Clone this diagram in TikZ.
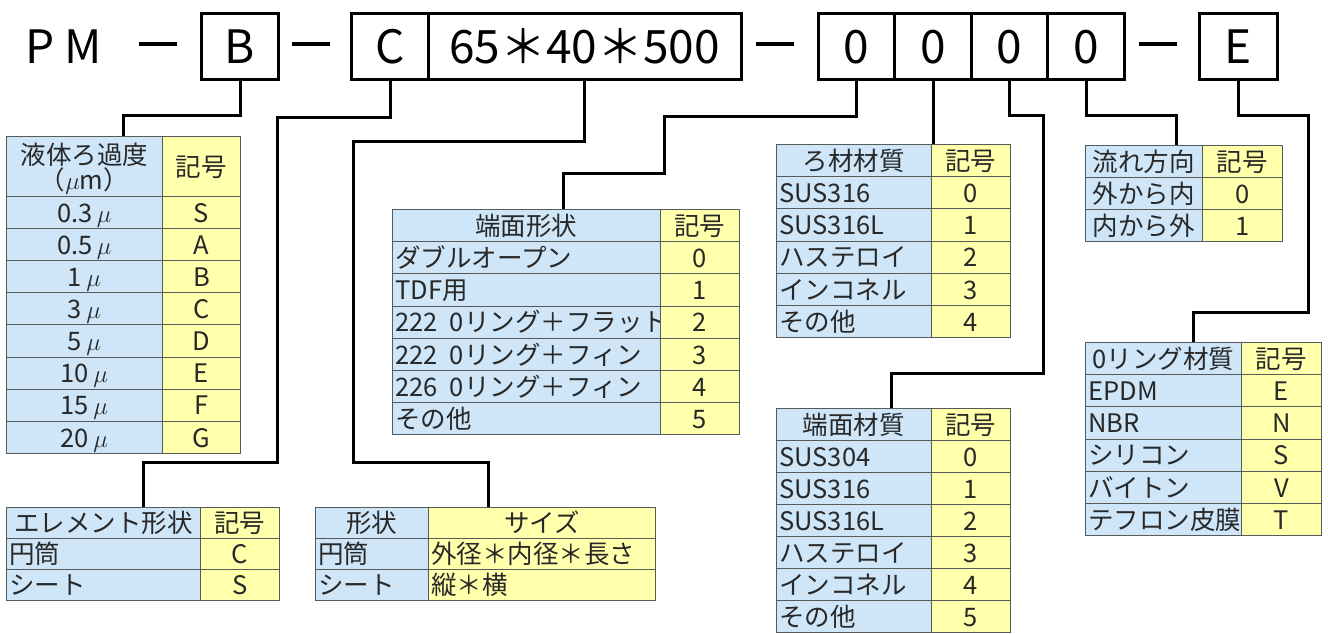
\documentclass[tikz,border=0pt]{standalone}
\usepackage{fontspec}
\setmainfont{Noto Sans CJK JP}
\definecolor{cellblue}{RGB}{206,230,248}
\definecolor{cellyel}{RGB}{255,255,172}
\definecolor{rule}{RGB}{85,90,90}
\definecolor{ink}{RGB}{40,40,40}
\newcommand\cellfont{\fontsize{25.5pt}{23pt}\selectfont}
\newcommand\codefont{\fontsize{46pt}{48pt}\selectfont}
\tikzset{
  code/.style={draw, line width=3pt, minimum height=66pt, inner sep=0pt, text height=34pt, text depth=0pt, font=\codefont},
  bar/.style={fill=black, minimum width=38pt, minimum height=3.5pt, inner sep=0pt},
  link/.style={line width=3pt},
  cell/.style={draw=rule, line width=0.9pt, anchor=north west, inner xsep=3pt, inner ysep=0pt,
    minimum height=32.2pt, text height=23.5pt, text depth=4pt, font=\cellfont, text=ink},
  bl/.style={cell, fill=cellblue, text width=#1, align=left},
  bc/.style={cell, fill=cellblue, text width=#1, align=center},
  yl/.style={cell, fill=cellyel, text width=#1, align=left},
  yc/.style={cell, fill=cellyel, text width=#1, align=center},
}
\begin{document}
\begin{tikzpicture}[x=1pt,y=-1pt]
\useasboundingbox (0,0) rectangle (1328,633);
% model code
\node[font=\codefont, inner sep=0pt, text height=34pt, text depth=0pt] (pm) at (63.5,46.5) {P\kern10pt M};
\node[bar] (dA) at (157.5,44) {};
\node[code, minimum width=77pt] (kB) at (240,46.5) {B};
\node[bar] (dB) at (311,44) {};
\node[code, minimum width=77pt] (kC) at (390,46.5) {C};
\node[code, minimum width=313pt] (kDim) at (584.5,46.5) {65＊40＊500};
\node[bar] (dC) at (774.5,44) {};
\foreach \x [count=\i] in {856.5,933,1009.5,1086}
  \node[code, minimum width=76.5pt] (kO\i) at (\x,46.5) {0};
\node[bar] (dD) at (1157.5,44) {};
\node[code, minimum width=78pt] (kE) at (1238,46.5) {E};

% liquid filtration grade
\node[bc=150pt, text depth=27pt, minimum height=60pt] (gradeH) at (6,136) {液体ろ過度\\（$\mu$m）};
\node[yc=72pt, minimum height=60pt] (gradeK) at (162,136) {記号};
\foreach \v/\k [count=\i from 0] in {0.3/S,0.5/A,1/B,3/C,5/D,10/E,15/F,20/G}
{
  \node[bc=150pt] (gradeL\i) at (6,196+32.1*\i) {\v\,$\mu$};
  \node[yc=72pt] (gradeR\i) at (162,196+32.1*\i) {\k};
}

% end face shape
\node[bc=262pt] (shapeH) at (392,209) {端面形状};
\node[yc=73pt] (shapeK) at (660,209) {記号};
\foreach \v/\k [count=\i] in {ダブルオープン/0,TDF用/1,222\kern12pt 0リング＋フラット/2,222\kern12pt 0リング＋フィン/3,226\kern12pt 0リング＋フィン/4,その他/5}
{
  \node[bl=262pt] (shapeL\i) at (392,209+32.2*\i) {\v};
  \node[yc=73pt] (shapeR\i) at (660,209+32.2*\i) {\k};
}

% filter material
\node[bc=149pt] (filterH) at (776,144) {ろ材材質};
\node[yc=73pt] (filterK) at (931,144) {記号};
\foreach \v/\k [count=\i] in {SUS316/0,SUS316L/1,ハステロイ/2,インコネル/3,その他/4}
{
  \node[bl=149pt] (filterL\i) at (776,144+32.2*\i) {\v};
  \node[yc=73pt] (filterR\i) at (931,144+32.2*\i) {\k};
}

% flow direction
\node[bc=111pt] (flowH) at (1085,145) {流れ方向};
\node[yc=74pt] (flowK) at (1202,145) {記号};
\foreach \v/\k [count=\i] in {外から内/0,内から外/1}
{
  \node[bc=111pt] (flowL\i) at (1085,145+32*\i) {\v};
  \node[yc=74pt] (flowR\i) at (1202,145+32*\i) {\k};
}

% o-ring material
\node[bc=150pt] (oringH) at (1085,342) {0リング材質};
\node[yc=74pt] (oringK) at (1241,342) {記号};
\foreach \v/\k [count=\i] in {EPDM/E,NBR/N,シリコン/S,バイトン/V,テフロン皮膜/T}
{
  \node[bl=150pt] (oringL\i) at (1085,342+32.2*\i) {\v};
  \node[yc=74pt] (oringR\i) at (1241,342+32.2*\i) {\k};
}

% end face material
\node[bc=149pt] (matH) at (776,408) {端面材質};
\node[yc=73pt] (matK) at (931,408) {記号};
\foreach \v/\k [count=\i] in {SUS304/0,SUS316/1,SUS316L/2,ハステロイ/3,インコネル/4,その他/5}
{
  \node[bl=149pt] (matL\i) at (776,408+32*\i) {\v};
  \node[yc=73pt] (matR\i) at (931,408+32*\i) {\k};
}

% element shape
\node[bc=188pt, minimum height=31pt] (elemH) at (6,507) {エレメント形状};
\node[yc=73pt, minimum height=31pt] (elemK) at (200,507) {記号};
\foreach \v/\k [count=\i] in {円筒/C,シート/S}
{
  \node[bl=188pt, minimum height=31pt] (elemL\i) at (6,507+31*\i) {\v};
  \node[yc=73pt, minimum height=31pt] (elemR\i) at (200,507+31*\i) {\k};
}

% size
\node[bc=107pt, minimum height=31pt] (sizeH) at (315,507) {形状};
\node[yc=221pt, minimum height=31pt] (sizeK) at (428,507) {サイズ};
\foreach \v/\k [count=\i] in {円筒/外径＊内径＊長さ,シート/縦＊横}
{
  \node[bl=107pt, minimum height=31pt] (sizeL\i) at (315,507+31*\i) {\v};
  \node[yl=221pt, minimum height=31pt] (sizeR\i) at (428,507+31*\i) {\k};
}

% leaders
\draw[link] (kB.south) -- ++(0,34) -| ([xshift=39pt]gradeH.north);
\draw[link] (kC.south) -- ++(0,36) -| (277,462) -| ([xshift=40pt]elemH.north);
\draw[link] (kDim.south) -- ++(0,60) -| (353,462) -| ([xshift=-53pt]sizeK.north);
\draw[link] (kO1.south) -- ++(0,35) -| (664,173) -| ([xshift=37pt]shapeH.north);
\draw[link] (kO2.south) -- (kO2.south |- filterH.north);
\draw[link] (kO3.south) -- ++(0,34) -| (1043,373) -| ([xshift=38pt]matH.north);
\draw[link] (kO4.south) -- ++(0,34) -| ([xshift=33pt]flowH.north);
\draw[link] (kE.south) -- ++(0,34) -| (1308,312) -| ([xshift=30pt]oringH.north);
\end{tikzpicture}
\end{document}
